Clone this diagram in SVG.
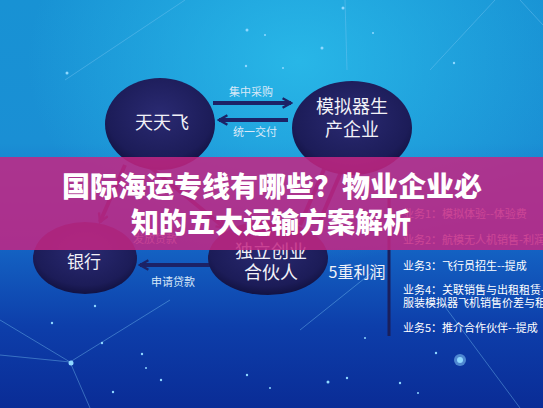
<svg xmlns="http://www.w3.org/2000/svg" width="543" height="408" viewBox="0 0 543 408">
<defs>
<linearGradient id="bg" x1="0" y1="0" x2="0" y2="1">
<stop offset="0" stop-color="#1892d4"/>
<stop offset="0.35" stop-color="#1a8fd4"/>
<stop offset="0.6" stop-color="#1464c4"/>
<stop offset="0.8" stop-color="#0d3eaa"/>
<stop offset="1" stop-color="#0a2c96"/>
</linearGradient>
<radialGradient id="glow" cx="0.55" cy="0.15" r="0.5">
<stop offset="0" stop-color="#2cc0ec" stop-opacity="0.8"/>
<stop offset="1" stop-color="#2cc0ec" stop-opacity="0"/>
</radialGradient>
<radialGradient id="node" cx="0.5" cy="0.4" r="0.6">
<stop offset="0" stop-color="#2a2a72"/>
<stop offset="0.8" stop-color="#1c1c58"/>
<stop offset="1" stop-color="#121242"/>
</radialGradient>
<marker id="ah" viewBox="0 0 10 10" refX="8" refY="5" markerWidth="3" markerHeight="3" orient="auto-start-reverse" markerUnits="strokeWidth">
<path d="M1,1 L8,5 L1,9" fill="none" stroke="#1c2266" stroke-width="2"/>
</marker>
<style>
.node{fill:url(#node)}
.nt{font-family:"Noto Sans CJK SC","Noto Sans",sans-serif;fill:#f2f2f8;text-anchor:middle}
.lbl{font-family:"Noto Sans CJK SC","Noto Sans",sans-serif;fill:#d8e8f8;font-size:11px;text-anchor:middle}
.arr{stroke:#1c2266;stroke-width:4;fill:none;marker-end:url(#ah)}
.biz{font-family:"Noto Sans CJK SC","Noto Sans",sans-serif;fill:#ffffff;font-size:11px}
.title{font-family:"Noto Sans CJK SC","Noto Sans",sans-serif;fill:#ffffff;font-size:28px;font-weight:900;text-anchor:middle}
.star{fill:#8fd8ff}
.net{stroke:#7cc8f4;stroke-width:0.8;opacity:0.5;fill:none}
</style>
</defs>
<rect width="543" height="408" fill="url(#bg)"/>
<rect width="543" height="408" fill="url(#glow)"/>
<g id="background-network">
<path class="net" d="M65,80 L185,0 M345,0 L347,70 M430,70 L495,0 M520,0 L543,25 M0,355 L70,362 L170,300 M0,320 L70,362 L90,408 M375,270 L300,330 M440,300 L520,408"/>
<circle class="star" cx="247" cy="30" r="1.5"/><circle class="star" cx="265" cy="35" r="1"/><circle class="star" cx="343" cy="8" r="1.5"/>
<circle class="star" cx="322" cy="48" r="1.5"/><circle class="star" cx="373" cy="33" r="1"/><circle class="star" cx="67" cy="73" r="1.5"/>
<circle class="star" cx="246" cy="66" r="1.2"/><circle class="star" cx="283" cy="68" r="1"/><circle class="star" cx="454" cy="63" r="1.2"/>
<circle class="star" cx="95" cy="306" r="1.2"/><circle class="star" cx="52" cy="323" r="1.2"/><circle class="star" cx="102" cy="343" r="1.2"/>
<circle class="star" cx="71" cy="363" r="2.5"/><circle class="star" cx="142" cy="354" r="1.2"/><circle class="star" cx="146" cy="368" r="1"/>
<circle class="star" cx="161" cy="380" r="1.2"/><circle class="star" cx="247" cy="375" r="1.2"/><circle class="star" cx="328" cy="382" r="1.5"/>
<circle class="star" cx="347" cy="378" r="1.2"/><circle class="star" cx="400" cy="383" r="1.2"/><circle class="star" cx="436" cy="353" r="1.2"/>
<circle class="star" cx="460" cy="360" r="6" opacity="0.5"/><circle class="star" cx="460" cy="360" r="3"/><circle class="star" cx="113" cy="392" r="1.2"/>
<circle class="star" cx="365" cy="338" r="1"/><circle class="star" cx="418" cy="393" r="1"/><circle class="star" cx="270" cy="388" r="1"/>
</g>
<g id="connectors">
<line class="arr" x1="213" y1="103" x2="291" y2="103"/>
<line class="arr" x1="288" y1="120" x2="219" y2="120"/>
<line class="arr" x1="210" y1="265" x2="140" y2="265"/>
<line class="arr" x1="125" y1="165" x2="100" y2="222"/>
<line class="arr" x1="145" y1="163" x2="225" y2="228"/>
<line class="arr" x1="300" y1="225" x2="328" y2="160"/>
<line class="arr" x1="318" y1="225" x2="348" y2="156"/>
<line x1="389" y1="195" x2="389" y2="336" stroke="#1a1f5c" stroke-width="3"/>
<text class="lbl" x="251" y="96">集中采购</text>
<text class="lbl" x="255" y="136">统一交付</text>
<text class="lbl" x="173" y="286">申请贷款</text>
<text class="lbl" x="155" y="243">发放贷款</text>
</g>
<g id="node-tiantianfei">
<ellipse class="node" cx="160" cy="124" rx="55" ry="46"/>
<text class="nt" x="162" y="129" font-size="18">天天飞</text>
</g>
<g id="node-simulator">
<ellipse class="node" cx="352" cy="128" rx="60" ry="47"/>
<text class="nt" x="352" y="113" font-size="18">模拟器生</text>
<text class="nt" x="352" y="136" font-size="18">产企业</text>
</g>
<g id="node-bank">
<ellipse class="node" cx="85" cy="258" rx="52" ry="36"/>
<text class="nt" x="84" y="268" font-size="17">银行</text>
</g>
<g id="node-partner">
<ellipse class="node" cx="268" cy="258" rx="60" ry="37"/>
<text class="nt" x="271" y="258" font-size="18">独立创业</text>
<text class="nt" x="271" y="279" font-size="18">合伙人</text>
</g>
<g id="profits">
<text class="nt" x="357" y="278" font-size="16">5重利润</text>
<text class="biz" x="403" y="218">业务1：模拟体验--体验费</text>
<text class="biz" x="403" y="244">业务2：航模无人机销售-利润</text>
<text class="biz" x="403" y="270">业务3：飞行员招生--提成</text>
<text class="biz" x="403" y="294">业务4：关联销售与出租租赁-</text>
<text class="biz" x="403" y="307">服装模拟器飞机销售价差与租</text>
<text class="biz" x="403" y="332">业务5：推介合作伙伴--提成</text>
</g>
<g id="title-band">
<rect x="0" y="157" width="543" height="93" fill="#c42683" opacity="0.86"/>
<text class="title" x="272" y="197">国际海运专线有哪些？物业企业必</text>
<text class="title" x="271" y="233">知的五大运输方案解析</text>
</g>
</svg>
